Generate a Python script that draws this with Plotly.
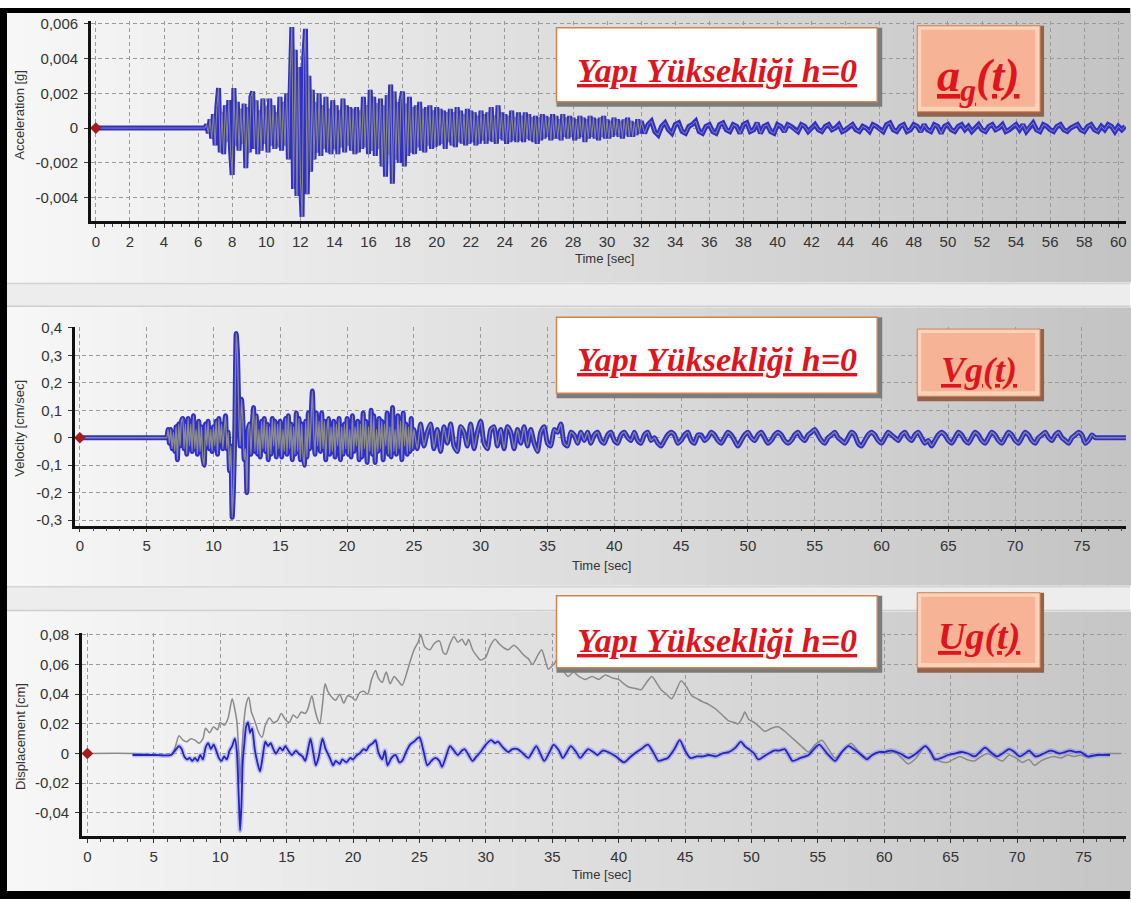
import plotly.graph_objects as go

W, H = 1131, 902

# ======================= DATA =======================
# --- Panel 1: ground acceleration a_g(t) [g], values stored in units of 1e-4 g
ACC_UNIT = 1e-4
acc_quiet_t = [0.0, 6.3]
acc_quiet = [0, 0]
acc_strong_t0, acc_strong_dt = 6.4, 0.1
acc_strong = [
    0, 2, -3, 5, -6, 8,
    -10, 12, 23, -14, 9, -15, 13, -8, 16, -12,
    -27, 23, -10, 15, -13, 11, -9, 14, -23, 12,
    -14, 18, 21, -12, 16, -15, 10, -13, 17, -9,
    12, -14, 17, -10, 13, -12, 9, -11, 18, -13,
    15, -10, 20, -18, 31, 58, -35, 45, -39, 35,
    -28, -51, 40, 57, -38, 30, -25, 22, -18, 15,
    -14, 20, -16, 13, -12, 18, -14, 11, -15, 16,
    -12, 13, -15, 10, -11, 17, -14, 13, -10, 12,
    -13, 11, -15, 12, -14, 10, -12, 18, -11, 13,
    -15, 22, -13, 18, -16, 14, -12, 17, -22, 13,
    -28, 19, -15, 25, -32, 21, -18, 15, -20, 16,
    21, -22, 14, -16, 18, -14, 12, -15, 13, -11,
    15, -13, 11, -14, 12, -10, 13, -12, 10, -11,
    12, -10, 11, -9, 10, -12, 9, -8, 11, -10,
    9, -11, 12, -8, 10, -9, 8, -10, 11, -9,
    10, -8, 9, -10, 7, -9, 10, -7, 8, -9,
    9, -7, 12, -8, 7, -9, 13, -6, 9, -7,
    8, -9, 7, -8, 10, -7, 6, -8, 9, -7,
    7, -8, 9, -6, 8, -7, 6, -8, 7, -9,
    6, -7, 8, -6, 7, -5, 6, -7, 8, -6,
    7, -6, 5, -7, 8, -5, 6, -6, 7, -5,
    6, -7, 5, -6, 7, -5, 6, -8, 5, -6,
    7, -5, 6, -6, 5, -7, 6, -5, 7, -6,
    5, -6, 4, -5, 6, -4, 5, -5, 4, -6,
    5, -4, 6, -5, 4, -5, 3, -4, 5, -3,
    4,
]
acc_coda_t0, acc_coda_dt = 32.2, 0.2
acc_coda = [
    -3, 2, 4, -2, -4, 1, 3, -1, -3, 2,
    3, -2, -3, 1, 2, 4, -2, -3, 1, 2,
    -2, -3, 2, 3, -1, -2, 2, 1, -3, 2,
    3, -2, -1, 3, -3, 1, 2, -2, -3, 2,
    1, -2, 2, 1, -1, -2, 2, 1, -2, 0,
    2, -1, -2, 1, 2, -1, 0, 2, -2, -1,
    1, 2, -1, -2, 1, 0, -2, 2, 1, -1,
    -2, 2, 3, -1, -2, 1, 2, -2, -1, 2,
    1, -2, 2, -1, -2, 2, 1, -3, 1, 2,
    -1, -2, 1, 2, -1, 1, -2, 0, 2, -1,
    -2, 1, 2, -1, 0, 2, -2, -1, 1, 2,
    -1, 2, -2, 1, 3, -1, -2, 2, 1, -1,
    -2, 1, 2, -1, -2, 0, 1, 2, -1, -2,
    1, 2, -1, -2, 1, -1, 2, 1, -2, 1,
    -1, 1,
]

# --- Panel 2: ground velocity V_g(t) [cm/sec], values stored in units of 0.01 cm/sec
VEL_UNIT = 0.01
vel_quiet_t = [0.0, 6.4]
vel_quiet = [0, 0]
vel_strong_t0, vel_strong_dt = 6.5, 0.1
vel_strong = [
    0, 3, -2, 3, -4,
    2, -5, 4, -8, 5, -3, 6, 7, -4, 5,
    -6, 7, -3, 5, -5, 8, -4, 3, -6, 6,
    -5, 4, -7, -10, 5, -3, 6, -4, 3, -5,
    4, -3, 6, -6, 7, -2, 5, -4, 3, 8,
    -4, 2, -12, -3, -29, -18, 4, 38, 30, 8,
    -3, 14, 6, -8, -4, -20, 3, 5, -6, 4,
    11, -5, 8, -6, 3, -7, 6, -4, 7, -5,
    5, -8, 4, -6, 7, -3, 6, -7, 5, -4,
    6, -7, 3, -5, 7, -6, 8, -4, 5, -8,
    4, -6, 9, -5, 7, -8, 5, -6, -10, 6,
    -7, 9, -4, 6, 17, 2, -6, 9, -3, 6,
    -5, 9, -4, 6, -8, 3, 7, -6, 4, -5,
    6, -7, 5, -3, 7, -8, 4, -6, 5, -4,
    7, -6, 3, -7, 8, -5, 4, -3, 6, -8,
    5, -7, 9, -4, 6, -9, 4, -5, 10, -6,
    8, -9, 3, -5, 7, -4, 6, -8, 5, -3,
    9, -6, 4, -7, 11, -5, 3, -6, 8, -4,
    6, -8, 9, -3, 5, -6, 4, -5, 7, -4,
    3,
]
vel_coda_t0, vel_coda_dt = 25.25, 0.25
vel_coda = [
    -4, 5, -3, 2, 5, -4, 3, -5,
    4, -2, 5, -3, -5, 4, 2, -3,
    5, -4, 2, 6, -2, -4, 3, 4,
    -3, 3, -4, 4, 2, -4, 3, -2,
    4, -3, 3, -2, -5, 2, 4, -2,
    -3, 3, 2, 5, -2, -3, 2, 1,
    -2, 2, -1, 2, -2, 1, 2, -1,
    -2, 1, 2, -1, -2, 1, 2, 0,
    -1, 2, -1, -2, 1, 2, -1, 0,
    -2, -3, -1, 1, 2, 1, -2, -1,
    1, 2, -1, -2, 1, 1, -1, 0,
    2, 1, -1, -2, 0, 2, 1, -1,
    -3, -1, 1, 2, 0, -1, 1, 2,
    0, -2, -1, 1, 2, 1, -1, -2,
    -1, 1, 2, 0, -1, 1, 2, 3,
    1, -1, -2, 0, 1, 2, 0, -1,
    -2, 0, 2, 1, -2, -3, -1, 1,
    2, 1, -1, -2, 0, 2, 1, 0,
    -1, 1, 2, 0, -1, 1, 2, 0,
    -2, -1, -3, -1, 1, 2, 1, -1,
    -2, 0, 2, 1, -1, -2, 0, 2,
    1, -1, -2, 0, 2, 1, -1, -2,
    0, 2, 1, -1, -2, 0, 2, 1,
    -1, -2, 0, 1, 2, 0, -1, 1,
    2, 0, -1, -2, 0, 1, 2, 1,
    -2, -1, 1, 0, 0, 0, 0, 0,
]
vel_end_t = [78.3]
vel_end = [0]

# --- Panel 3: ground displacement U_g(t) [cm], values stored in units of 1e-3 cm
DISP_UNIT = 1e-3
disp_blue_t = [
    3.4, 5.0, 6.3, 6.6, 6.9, 7.1, 7.3, 7.5, 7.7, 7.9, 8.1, 8.3, 8.5, 8.7, 8.9, 9.1, 9.3, 9.5,
    9.7, 9.9, 10.1, 10.3, 10.5, 10.7, 10.9, 11.1, 11.25, 11.4, 11.5, 11.6, 11.7, 11.8, 11.95,
    12.1, 12.25, 12.4, 12.6, 12.8, 13.0, 13.2, 13.4, 13.6, 13.8, 14.0, 14.2, 14.5, 14.7, 14.9,
    15.2, 15.4, 15.7, 15.9, 16.2, 16.4, 16.6, 16.8, 17.0, 17.2, 17.4, 17.7, 17.9, 18.1, 18.3,
    18.5, 18.7, 19.0, 19.2, 19.5, 19.8, 20.0, 20.3, 20.5, 20.8, 21.0, 21.2, 21.5, 21.7, 21.9,
    22.2, 22.4, 22.6, 22.9, 23.2, 23.5, 23.7, 24.0, 24.3, 24.6, 25.0, 25.3, 25.6, 25.9, 26.2,
    26.5, 26.7, 27.0, 27.3, 27.6, 27.9, 28.2, 28.4, 28.7, 29.0, 29.3, 29.6, 30.0, 30.4, 30.7,
    30.9, 31.3, 31.7, 32.0, 32.4, 32.8, 33.2, 33.5, 33.8, 34.1, 34.4, 34.8, 35.1, 35.5, 35.8,
    36.1, 36.4, 36.8, 37.1, 37.4, 37.7, 38.1, 38.4, 38.8, 39.2, 39.8, 40.4, 40.8, 41.2, 41.7,
    42.2, 42.6, 43.0, 43.4, 43.7, 44.2, 44.6, 45.0, 45.4, 45.9, 46.3, 46.8, 47.3, 47.8, 48.3,
    48.8, 49.2, 49.5, 49.8, 50.2, 50.5, 51.1, 51.7, 52.1, 52.5, 52.8, 53.1, 53.7, 54.3, 54.7,
    55.1, 55.7, 56.3, 56.8, 57.3, 57.7, 58.0, 58.4, 58.7, 59.1, 59.6, 60.0, 60.5, 61.2, 61.8,
    62.4, 63.1, 63.5, 63.8, 64.3, 64.8, 65.3, 65.8, 66.3, 66.8, 67.2, 67.6, 68.0, 68.5, 68.9,
    69.4, 69.8, 70.2, 70.6, 70.9, 71.4, 72.0, 72.5, 72.9, 73.2, 73.6, 74.0, 74.4, 74.8, 75.3,
    76.0, 77.0,
]
disp_blue = [
    -1, -1, -1, 2, 5, 3, -2, -4, -3, -5, -3, -5, -1, -4, 4, 7, 3, 6,
    2, -3, -5, -2, -4, 2, 5, 10, 2, -30, -52, -35, -5, 5, 18,
    21, 14, 17, 3, -6, -12, -2, 8, 5, 7, 3, 0, 4, 2, 5,
    1, -1, 2, 0, -2, -5, 2, 10, 1, -8, -3, 10, 4, 0, -4,
    -8, -5, -7, -4, -6, -3, -4, -1, 0, 3, 2, 5, 7, 9, 1,
    -4, 2, -8, -3, -1, -6, -5, 1, 6, 8, 11, 2, -8, -5, -3,
    -5, -9, -2, 5, 2, -1, 2, 3, -1, -5, -2, 1, 6, 9, 7,
    8, 4, 1, 3, 3, 0, -3, 1, 5, 0, -5, 1, 6, 2, -3,
    1, 5, 1, -3, 0, 3, 1, -1, 2, 1, -2, -6, -3, 0, 3,
    6, 1, -5, -4, -3, 3, 9, 2, -3, -2, -2, -1, -2, 0, 1,
    4, 8, 5, 3, 0, -4, -1, 2, 2, 3, -1, -5, -3, -1, 3,
    6, 0, -5, 1, 5, 3, 1, -2, -4, -1, 1, 1, 2, 0, -3,
    0, 5, 1, -4, -3, -1, 0, 1, 0, -2, 1, 4, 1, -2, 0,
    3, 1, -2, 0, 2, -2, 0, 2, 1, 0, 1, 2, 1, 1, -2,
    -1, -1,
]
disp_gray_t = [
    0.0, 3.4, 5.0, 6.3, 6.6, 6.9, 7.2, 7.5, 7.8, 8.1, 8.4, 8.7, 8.9, 9.2, 9.5, 9.8, 10.0, 10.3,
    10.6, 10.9, 11.1, 11.25, 11.4, 11.5, 11.6, 11.75, 11.95, 12.15, 12.35, 12.6, 12.9, 13.15,
    13.4, 13.7, 14.0, 14.3, 14.6, 14.9, 15.2, 15.5, 15.8, 16.1, 16.4, 16.6, 16.9, 17.1, 17.3,
    17.5, 17.7, 17.9, 18.1, 18.4, 18.7, 19.0, 19.3, 19.6, 19.9, 20.2, 20.5, 20.8, 21.1, 21.4,
    21.7, 21.9, 22.2, 22.5, 22.8, 23.1, 23.4, 23.7, 24.0, 24.3, 24.6, 24.9, 25.1, 25.4, 25.8,
    26.1, 26.5, 26.8, 27.0, 27.3, 27.6, 27.9, 28.2, 28.5, 28.7, 29.0, 29.3, 29.6, 30.0, 30.3,
    30.7, 31.0, 31.4, 31.7, 32.1, 32.5, 32.9, 33.2, 33.5, 33.9, 34.2, 34.5, 34.7, 35.1, 35.5,
    35.9, 36.2, 36.6, 37.0, 37.5, 38.0, 38.5, 39.0, 39.5, 40.0, 40.4, 40.7, 41.2, 41.7, 42.1,
    42.5, 42.9, 43.2, 43.6, 44.0, 44.4, 44.7, 45.1, 45.5, 45.9, 46.3, 46.8, 47.3, 47.8, 48.3,
    48.7, 49.0, 49.3, 49.5, 49.8, 50.2, 50.6, 51.0, 51.5, 52.0, 52.5, 53.0, 53.5, 54.0, 54.3,
    54.8, 55.3, 55.8, 56.3, 56.9, 57.5, 58.1, 58.7, 59.3, 59.8, 60.3, 60.8, 61.3, 61.8, 62.4,
    63.1, 63.6, 64.1, 64.7, 65.2, 65.7, 66.2, 66.8, 67.3, 67.8, 68.4, 68.9, 69.4, 69.9, 70.4,
    70.9, 71.3, 71.8, 72.3, 72.8, 73.3, 73.8, 74.3, 74.8, 75.1, 75.6, 76.2, 77.0, 77.8,
]
disp_gray = [
    0, 0, -1, -1, 4, 12, 9, 8, 10, 9, 7, 10, 17, 14, 18, 16, 21, 19,
    24, 37, 30, 22, 0, -20, -5, 18, 33, 38, 28, 22, 14, 11,
    19, 24, 21, 22, 27, 23, 21, 26, 24, 28, 27, 30, 39, 31, 24,
    20, 33, 47, 42, 38, 36, 40, 34, 39, 38, 36, 41, 42, 40, 50,
    56, 51, 48, 55, 47, 52, 49, 46, 53, 62, 70, 75, 80, 72, 70,
    74, 76, 68, 67, 74, 79, 75, 77, 73, 77, 70, 66, 63, 65, 72,
    77, 74, 71, 70, 73, 70, 66, 64, 60, 66, 70, 62, 57, 60, 65,
    55, 52, 55, 52, 50, 52, 50, 53, 51, 50, 47, 45, 44, 43, 48,
    52, 47, 43, 40, 37, 44, 49, 45, 39, 37, 35, 33, 30, 26, 22,
    21, 20, 24, 28, 23, 21, 18, 15, 17, 18, 15, 11, 7, 3, 1,
    6, 9, 3, -3, 2, 7, 1, -3, 0, 1, 0, 1, -3, -7, -3,
    5, -1, -5, -6, -4, -2, -4, -5, -2, 0, -3, -5, -1, -3, -6,
    -4, -8, -5, -3, -2, -3, -1, -2, -1, -2, -2, -1, 0, 0,
]

# Tick labels (decimal comma as in the original software)
acc_tickvals = [-0.004, -0.002, 0, 0.002, 0.004, 0.006]
acc_ticktext = ["-0,004", "-0,002", "0", "0,002", "0,004", "0,006"]
vel_tickvals = [-0.3, -0.2, -0.1, 0, 0.1, 0.2, 0.3, 0.4]
vel_ticktext = ["-0,3", "-0,2", "-0,1", "0", "0,1", "0,2", "0,3", "0,4"]
disp_tickvals = [-0.04, -0.02, 0, 0.02, 0.04, 0.06, 0.08]
disp_ticktext = ["-0,04", "-0,02", "0", "0,02", "0,04", "0,06", "0,08"]

titles_y = ["Acceleration [g]", "Velocity [cm/sec]", "Displacement [cm]"]
title_x = "Time [sec]"
box_text = "Yapı Yüksekliği h=0"
badge_texts = ["a<sub>g</sub>(t)", "Vg(t)", "Ug(t)"]

# ======================= BUILD SERIES =======================
acc_t = (acc_quiet_t
         + [round(acc_strong_t0 + i * acc_strong_dt, 3) for i in range(len(acc_strong))]
         + [round(acc_coda_t0 + i * acc_coda_dt, 3) for i in range(len(acc_coda))])
acc_v = [v * ACC_UNIT for v in acc_quiet + acc_strong + acc_coda]

vel_t = (vel_quiet_t
         + [round(vel_strong_t0 + i * vel_strong_dt, 3) for i in range(len(vel_strong))]
         + [round(vel_coda_t0 + i * vel_coda_dt, 3) for i in range(len(vel_coda))]
         + vel_end_t)
vel_v = [v * VEL_UNIT for v in vel_quiet + vel_strong + vel_coda + vel_end]

dispb_v = [v * DISP_UNIT for v in disp_blue]
dispg_v = [v * DISP_UNIT for v in disp_gray]

BLUE = "#2f2fcf"
GRAY = "#8a8a8a"
RED_MARK = "#a51c1c"

fig = go.Figure()

# Panel 1
fig.add_trace(go.Scatter(x=acc_t, y=acc_v, mode="lines", line=dict(color=BLUE, width=5),
                         xaxis="x", yaxis="y", hoverinfo="skip"))
fig.add_trace(go.Scatter(x=acc_t, y=acc_v, mode="lines", line=dict(color=GRAY, width=1),
                         xaxis="x", yaxis="y", hoverinfo="skip"))
fig.add_trace(go.Scatter(x=[0], y=[0], mode="markers", marker=dict(symbol="diamond", size=9, color=RED_MARK),
                         xaxis="x", yaxis="y"))
# Panel 2
fig.add_trace(go.Scatter(x=vel_t, y=vel_v, mode="lines", line=dict(color=BLUE, width=5, shape="spline", smoothing=0.6),
                         xaxis="x2", yaxis="y2", hoverinfo="skip"))
fig.add_trace(go.Scatter(x=vel_t, y=vel_v, mode="lines", line=dict(color=GRAY, width=1.3, shape="spline", smoothing=0.6),
                         xaxis="x2", yaxis="y2", hoverinfo="skip"))
fig.add_trace(go.Scatter(x=[0], y=[0], mode="markers", marker=dict(symbol="diamond", size=9, color=RED_MARK),
                         xaxis="x2", yaxis="y2"))
# Panel 3
fig.add_trace(go.Scatter(x=disp_gray_t, y=dispg_v, mode="lines",
                         line=dict(color=GRAY, width=1.5, shape="spline", smoothing=0.7),
                         xaxis="x3", yaxis="y3", hoverinfo="skip"))
fig.add_trace(go.Scatter(x=disp_blue_t, y=dispb_v, mode="lines",
                         line=dict(color="rgba(110,110,240,0.35)", width=5, shape="spline", smoothing=0.7),
                         xaxis="x3", yaxis="y3", hoverinfo="skip"))
fig.add_trace(go.Scatter(x=disp_blue_t, y=dispb_v, mode="lines",
                         line=dict(color="#2424c0", width=1.8, shape="spline", smoothing=0.7),
                         xaxis="x3", yaxis="y3", hoverinfo="skip"))
fig.add_trace(go.Scatter(x=[0], y=[0], mode="markers", marker=dict(symbol="diamond", size=9, color=RED_MARK),
                         xaxis="x3", yaxis="y3"))

# ======================= LAYOUT =======================
def px(x):
    return x / W

def py(y):
    return 1 - y / H

tickfont = dict(family="Liberation Sans, Arial, sans-serif", size=15, color="#333333")
grid = dict(showgrid=True, gridcolor="#9a9a9a", gridwidth=1, griddash="4px,3px", zeroline=False)
line = dict(showline=True, linecolor="#111111", linewidth=2.5, ticks="outside", ticklen=4,
            tickcolor="#333333", tickfont=tickfont, fixedrange=True)

def xax(d0, d1, r, dtick, minor, anchor):
    return dict(domain=[px(d0), px(d1)], range=r, dtick=dtick, tick0=0, anchor=anchor,
                minor=dict(dtick=minor, ticklen=3, tickcolor="#444444", ticks="outside", showgrid=False),
                ticklabelstandoff=1, **grid, **line)

def yax(d0, d1, r, tv, tt, anchor):
    return dict(domain=[py(d1), py(d0)], range=r, tickvals=tv, ticktext=tt, anchor=anchor,
                ticklabelstandoff=3, **grid, **line)

shapes = []

def gradient(y0, y1, c0, c1, n=48):
    for i in range(n):
        f = i / (n - 1)
        c = tuple(round(a + (b - a) * f) for a, b in zip(c0, c1))
        shapes.append(dict(type="rect", xref="paper", yref="paper", x0=i / n, x1=(i + 1) / n + 0.002,
                           y0=py(y1), y1=py(y0), fillcolor="rgb(%d,%d,%d)" % c, line=dict(width=0),
                           layer="below"))

gradient(0, 278, (247, 247, 247), (196, 196, 196))
gradient(303, 585, (247, 247, 247), (196, 196, 196))
gradient(611, 902, (247, 247, 247), (198, 198, 198))
for (a, b) in [(278, 303), (585, 611)]:
    shapes.append(dict(type="rect", xref="paper", yref="paper", x0=0, x1=1, y0=py(b), y1=py(a),
                       fillcolor="#ededed", line=dict(width=0), layer="below"))
    shapes.append(dict(type="line", xref="paper", yref="paper", x0=0, x1=1, y0=py(a + 1), y1=py(a + 1),
                       line=dict(color="#d4d4d4", width=1.5), layer="below"))
    shapes.append(dict(type="line", xref="paper", yref="paper", x0=0, x1=1, y0=py(b - 1), y1=py(b - 1),
                       line=dict(color="#cfcfcf", width=1.5), layer="below"))

annotations = []

def white_box(x0, y0, x1, y1, ty):
    shapes.append(dict(type="rect", xref="paper", yref="paper", x0=px(x0), x1=px(x1), y0=py(y1), y1=py(y0),
                       fillcolor="#7c7c7c", line=dict(width=0), layer="above"))
    shapes.append(dict(type="rect", xref="paper", yref="paper", x0=px(x0), x1=px(x1 - 5), y0=py(y1 - 5), y1=py(y0),
                       fillcolor="#ffffff", line=dict(color="#d0844e", width=1.5), layer="above"))
    annotations.append(dict(xref="paper", yref="paper", x=px((x0 + x1 - 5) / 2), y=py(ty), text=box_text,
                            showarrow=False, xanchor="center", yanchor="middle",
                            font=dict(family="Liberation Serif, Times New Roman, serif", size=34, color="#e0141c",
                                      weight="bold", style="italic", lineposition="under")))

def badge(x0, y0, x1, y1, ty, text, size):
    shapes.append(dict(type="rect", xref="paper", yref="paper", x0=px(x0), x1=px(x1), y0=py(y1), y1=py(y0),
                       fillcolor="#93614c", line=dict(width=0), layer="above"))
    shapes.append(dict(type="rect", xref="paper", yref="paper", x0=px(x0), x1=px(x1 - 4), y0=py(y1 - 5), y1=py(y0),
                       fillcolor="#fcd2bb", line=dict(color="#d0844e", width=1), layer="above"))
    shapes.append(dict(type="rect", xref="paper", yref="paper", x0=px(x0 + 4), x1=px(x1 - 9), y0=py(y1 - 10),
                       y1=py(y0 + 4), fillcolor="#f6b395", line=dict(width=0), layer="above"))
    annotations.append(dict(xref="paper", yref="paper", x=px((x0 + x1 - 4) / 2), y=py(ty), text=text,
                            showarrow=False, xanchor="center", yanchor="middle",
                            font=dict(family="Liberation Serif, Times New Roman, serif", size=size, color="#e0141c",
                                      weight="bold", style="italic", lineposition="under")))

white_box(557, 20, 883, 100, 63)
badge(918, 18, 1045, 110, 72, badge_texts[0], 46)
white_box(557, 313, 883, 395, 356)
badge(918, 325, 1045, 398, 366, badge_texts[1], 36)
white_box(557, 595, 883, 673, 640)
badge(918, 592, 1045, 673, 636, badge_texts[2], 38)

# axis titles as text
lab_font = dict(family="Liberation Sans, Arial, sans-serif", size=13, color="#333333")
for (ytxt, yc, xc) in [(titles_y[0], 108, 20), (titles_y[1], 425, 20), (titles_y[2], 737, 20)]:
    annotations.append(dict(xref="paper", yref="paper", x=px(xc), y=py(yc), text=ytxt, textangle=-90,
                            showarrow=False, xanchor="center", yanchor="middle", font=lab_font))
for (xc, yc) in [(605, 254), (602, 564), (602, 877)]:
    annotations.append(dict(xref="paper", yref="paper", x=px(xc), y=py(yc), text=title_x,
                            showarrow=False, xanchor="center", yanchor="middle", font=lab_font))

# black frame
for (x0, y0, x1, y1) in [(0, 0, 1131, 5), (0, 0, 7, 902), (0, 894, 1131, 902)]:
    shapes.append(dict(type="rect", xref="paper", yref="paper", x0=px(x0), x1=px(x1), y0=py(y1), y1=py(y0),
                       fillcolor="#000000", line=dict(width=0), layer="above"))

fig.update_layout(
    width=W, height=H, autosize=False,
    margin=dict(l=0, r=0, t=0, b=0),
    paper_bgcolor="#ffffff", plot_bgcolor="rgba(0,0,0,0)",
    showlegend=False,
    xaxis=xax(91, 1127, [-0.29, 60.45], 2, 0.5, "y"),
    yaxis=yax(13, 216, [-0.00536, 0.00616], acc_tickvals, acc_ticktext, "x"),
    xaxis2=xax(75, 1127, [-0.37, 78.3], 5, 1, "y2"),
    yaxis2=yax(323, 524, [-0.32, 0.403], vel_tickvals, vel_ticktext, "x2"),
    xaxis3=xax(82, 1127, [-0.41, 78.2], 5, 1, "y3"),
    yaxis3=yax(633, 838, [-0.0555, 0.0811], disp_tickvals, disp_ticktext, "x3"),
    shapes=shapes,
    annotations=annotations,
)

fig.write_html("out.html")
